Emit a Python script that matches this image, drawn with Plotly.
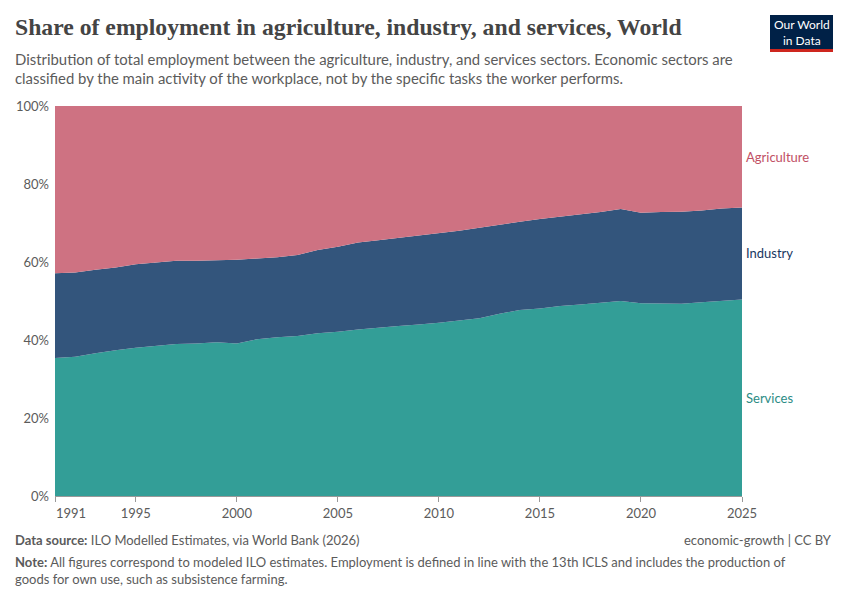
import plotly.graph_objects as go

years = list(range(1991, 2026))
services = [35.4, 35.7, 36.6, 37.4, 38.0, 38.5, 39.0, 39.1, 39.4, 39.1,
            40.2, 40.7, 41.0, 41.7, 42.1, 42.7, 43.2, 43.6, 44.0, 44.4,
            45.0, 45.6, 46.7, 47.7, 48.1, 48.7, 49.1, 49.6, 50.0, 49.4,
            49.4, 49.3, 49.7, 50.1, 50.4]
industry = [21.7, 21.6, 21.4, 21.2, 21.4, 21.4, 21.3, 21.2, 21.0, 21.5,
            20.7, 20.5, 20.8, 21.4, 21.8, 22.3, 22.4, 22.6, 22.7, 22.9,
            23.0, 23.2, 22.9, 22.6, 22.9, 22.9, 23.0, 23.2, 23.6, 23.2,
            23.4, 23.6, 23.5, 23.6, 23.6]
agriculture = [42.9, 42.7, 42.0, 41.4, 40.6, 40.1, 39.7, 39.7, 39.6, 39.4,
               39.1, 38.8, 38.2, 36.9, 36.1, 35.0, 34.4, 33.8, 33.3, 32.7,
               32.0, 31.2, 30.4, 29.7, 29.0, 28.4, 27.9, 27.2, 26.4, 27.4,
               27.2, 27.1, 26.8, 26.3, 26.0]
x_ticks = [1991, 1995, 2000, 2005, 2010, 2015, 2020, 2025]
y_ticks = [0, 20, 40, 60, 80, 100]

series = [
    ("Services", services, "rgb(51,158,151)", "#2C8C85"),
    ("Industry", industry, "rgb(51,85,124)", "#18375F"),
    ("Agriculture", agriculture, "rgb(206,114,130)", "#C15065"),
]

# page offset (browser body margin)
OFF = 8
W, H = 850, 600
ML, MR, MT, MB = 55 - OFF, 108 + OFF, 106 - OFF, 104 + OFF

fig = go.Figure()
for name, vals, fill, _ in series:
    fig.add_trace(go.Scatter(
        x=years, y=vals, name=name, mode="lines", stackgroup="one",
        line=dict(width=0, color=fill), fillcolor=fill, hoverinfo="skip",
    ))

# end labels at band midpoints
base = 0
for name, vals, fill, tcol in series:
    mid = base + vals[-1] / 2
    base += vals[-1]
    fig.add_annotation(x=1, xref="paper", y=mid, yref="y", text=name,
                       showarrow=False, xanchor="left", xshift=2,
                       font=dict(family="Lato", size=13, color=tcol))

fig.update_layout(
    width=W, height=H,
    margin=dict(l=ML, r=MR, t=MT, b=MB, autoexpand=False),
    paper_bgcolor="white", plot_bgcolor="white",
    showlegend=False, hovermode=False,
    font=dict(family="Lato", color="#5b5b5b"),
)
fig.update_xaxes(
    range=[1991, 2025], tickvals=x_ticks,
    ticktext=["" if t == 1991 else str(t) for t in x_ticks],
    showgrid=False, showline=True, linecolor="#999", linewidth=1,
    ticks="outside", ticklen=5, tickcolor="#999", automargin=False,
    tickfont=dict(family="Lato", size=13, color="#5b5b5b"), zeroline=False,
)
fig.update_yaxes(
    range=[0, 100], tickvals=y_ticks, ticktext=[f"{t}%" for t in y_ticks],
    showgrid=True, gridcolor="#ddd", griddash="dash", gridwidth=1,
    zeroline=False, showline=False, ticks="", ticklabelstandoff=5,
    automargin=False,
    tickfont=dict(family="Lato", size=13, color="#5b5b5b"),
)

def px_x(px):
    return (px - OFF - ML) / (W - ML - MR)

def px_y(py):
    return (H - MB - (py - OFF)) / (H - MT - MB)

# first x tick label, left-aligned at its tick
fig.add_annotation(x=x_ticks[0], xref="x", y=px_y(503), yref="paper",
                   text=str(x_ticks[0]), showarrow=False, xanchor="left", yanchor="top",
                   xshift=-1, font=dict(family="Lato", size=13, color="#5b5b5b"))

fig.add_annotation(x=px_x(13), y=px_y(27), xref="paper", yref="paper",
                   text="<b>Share of employment in agriculture, industry, and services, World</b>",
                   showarrow=False, xanchor="left", yanchor="middle",
                   font=dict(family="Liberation Serif", size=23.7, color="#444"))
fig.add_annotation(x=px_x(13), y=px_y(48), xref="paper", yref="paper",
                   text="Distribution of total employment between the agriculture, industry, and services sectors. Economic sectors are<br>classified by the main activity of the workplace, not by the specific tasks the worker performs.",
                   showarrow=False, xanchor="left", yanchor="top", align="left",
                   font=dict(family="Lato", size=14.9, color="#5b5b5b"))

# Footer
fig.add_annotation(x=px_x(13), y=px_y(540), xref="paper", yref="paper",
                   text="<b>Data source:</b> ILO Modelled Estimates, via World Bank (2026)",
                   showarrow=False, xanchor="left", yanchor="middle",
                   font=dict(family="Lato", size=13, color="#5b5b5b"))
fig.add_annotation(x=px_x(834), y=px_y(540), xref="paper", yref="paper",
                   text="economic-growth | CC BY",
                   showarrow=False, xanchor="right", yanchor="middle",
                   font=dict(family="Lato", size=13, color="#5b5b5b"))
fig.add_annotation(x=px_x(13), y=px_y(552), xref="paper", yref="paper",
                   text="<b>Note:</b> All figures correspond to modeled ILO estimates. Employment is defined in line with the 13th ICLS and includes the production of<br>goods for own use, such as subsistence farming.",
                   showarrow=False, xanchor="left", yanchor="top", align="left",
                   font=dict(family="Lato", size=13, color="#5b5b5b"))

# Logo
fig.add_shape(type="rect", xref="paper", yref="paper",
              x0=px_x(770), x1=px_x(833), y0=px_y(49), y1=px_y(15),
              fillcolor="#002147", line=dict(width=0))
fig.add_shape(type="rect", xref="paper", yref="paper",
              x0=px_x(770), x1=px_x(833), y0=px_y(52), y1=px_y(49),
              fillcolor="#CE261E", line=dict(width=0))
fig.add_annotation(x=px_x(801.5), y=px_y(32), xref="paper", yref="paper",
                   text="Our World<br>in Data", showarrow=False,
                   xanchor="center", yanchor="middle", align="center",
                   font=dict(family="Lato", size=12, color="white"))

fig.write_html("out.html")
